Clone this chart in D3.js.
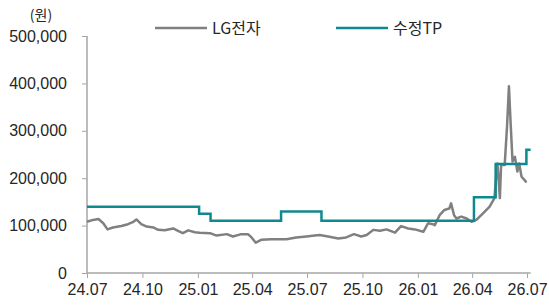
<!DOCTYPE html>
<html>
<head>
<meta charset="utf-8">
<script src="https://cdn.jsdelivr.net/npm/d3@7"></script>
<style>
  body { margin: 0; background: #fff; }
  svg { display: block; font-family: "Noto Sans CJK KR", "Noto Sans", sans-serif; }
</style>
</head>
<body>
<script>
// LG전자 price (원)
const priceDates = ['2024-07-01','2024-07-11','2024-07-20','2024-07-28','2024-08-04','2024-08-13','2024-08-27','2024-09-07','2024-09-16','2024-09-21','2024-09-29','2024-10-08','2024-10-19','2024-10-27','2024-11-07','2024-11-21','2024-11-29','2024-12-07','2024-12-16','2024-12-27','2025-01-04','2025-01-21','2025-02-01','2025-02-18','2025-02-28','2025-03-14','2025-03-25','2025-03-31','2025-04-07','2025-04-16','2025-05-03','2025-05-17','2025-05-28','2025-06-13','2025-06-30','2025-07-14','2025-07-22','2025-08-05','2025-08-22','2025-09-04','2025-09-17','2025-09-29','2025-10-08','2025-10-19','2025-10-30','2025-11-10','2025-11-24','2025-12-04','2025-12-16','2025-12-27','2026-01-10','2026-01-18','2026-01-26','2026-01-29','2026-02-06','2026-02-14','2026-02-22','2026-02-25','2026-03-02','2026-03-06','2026-03-14','2026-03-23','2026-03-31','2026-04-08','2026-04-19','2026-04-30','2026-05-08','2026-05-11','2026-05-13','2026-05-17','2026-05-19','2026-05-25','2026-05-29','2026-06-01','2026-06-04','2026-06-07','2026-06-11','2026-06-15','2026-06-18','2026-06-22','2026-06-27','2026-06-30']
const priceValues = [108000,112000,114000,105000,92000,96000,99000,103000,108000,113000,103000,98000,96000,91000,90000,94000,89000,84000,90000,86000,85000,84000,79000,82000,77000,82000,82000,75000,64000,70000,71000,71000,71000,75000,77000,79000,80000,77000,73000,75000,82000,77000,80000,91000,89000,92000,85000,99000,94000,92000,87000,105000,103000,101000,122000,133000,136000,147000,122000,115000,119000,115000,108000,112000,126000,140000,158000,207000,231000,158000,228000,228000,312000,394000,312000,235000,245000,214000,231000,203000,196000,191000]

// 수정TP (목표주가) change dates
const tpDates = ['2024-07-01','2025-01-03','2025-01-22','2025-05-19','2025-07-25','2026-04-04','2026-05-10','2026-06-30','2026-07-07']
const tpValues = [140000,125000,110000,130000,110000,160000,230000,260000,260000]

const xTicks = ['2024-07-01','2024-10-01','2025-01-01','2025-04-01','2025-07-01','2025-10-01','2026-01-01','2026-04-01','2026-07-01']
const yTicks = [0,100000,200000,300000,400000,500000]
const seriesNames = ['LG전자','수정TP']

const parse = d3.timeParse('%Y-%m-%d')
const price = priceDates.map((d, i) => ({ date: parse(d), v: priceValues[i] }))
const tp = tpDates.map((d, i) => ({ date: parse(d), v: tpValues[i] }))

const width = 549, height = 305
const svg = d3.select('body').append('svg').attr('width', width).attr('height', height)

const x = d3.scaleTime()
  .domain([parse('2024-07-01'), parse('2026-07-01')])
  .range([87, 527])
const y = d3.scaleLinear().domain([0, 500000]).range([273, 36])

const axisColor = '#a6a6a6'
const textColor = '#262626'

// y axis
const yAxis = svg.append('g')
  .attr('transform', 'translate(87,0)')
  .call(d3.axisLeft(y).tickValues(yTicks).tickSize(5).tickPadding(15)
    .tickFormat(d3.format(',')))
yAxis.select('.domain').attr('stroke', axisColor).attr('stroke-width', 1.5)
  .attr('d', `M0,${y(500000)}V${y(0)}`)
yAxis.selectAll('.tick line').attr('stroke', axisColor)
yAxis.selectAll('.tick text').attr('fill', textColor).style('font-size', '16px')

// x axis
const xAxis = svg.append('g')
  .attr('transform', `translate(0,${y(0)})`)
  .call(d3.axisBottom(x).tickValues(xTicks.map(parse)).tickSize(5).tickPadding(6)
    .tickFormat(d3.timeFormat('%y.%m')))
xAxis.select('.domain').attr('stroke', axisColor).attr('stroke-width', 1.5)
  .attr('d', `M87,0H${x(parse('2026-07-07'))}`)
xAxis.selectAll('.tick line').attr('stroke', axisColor)
xAxis.selectAll('.tick text').attr('fill', textColor).style('font-size', '16px')

svg.append('text')
  .attr('x', 41).attr('y', 20)
  .attr('text-anchor', 'middle')
  .attr('fill', textColor)
  .style('font-size', '14px')
  .text('(원)')

const line = d3.line().x(d => x(d.date)).y(d => y(d.v))

svg.append('path')
  .datum(price)
  .attr('fill', 'none')
  .attr('stroke', '#808080')
  .attr('stroke-width', 2.5)
  .attr('stroke-linejoin', 'round')
  .attr('d', line)

svg.append('path')
  .datum(tp)
  .attr('fill', 'none')
  .attr('stroke', '#0e8a8f')
  .attr('stroke-width', 2.5)
  .attr('d', line.curve(d3.curveStepAfter))

// legend
const legend = [
  { name: seriesNames[0], color: '#808080', x: 155 },
  { name: seriesNames[1], color: '#0e8a8f', x: 336 }
]
legend.forEach(l => {
  svg.append('line')
    .attr('x1', l.x).attr('x2', l.x + 52)
    .attr('y1', 28).attr('y2', 28)
    .attr('stroke', l.color).attr('stroke-width', 2.5)
  svg.append('text')
    .attr('x', l.x + 57).attr('y', 28)
    .attr('dy', '0.35em')
    .attr('fill', textColor)
    .style('font-size', '16px')
    .text(l.name)
})
</script>
</body>
</html>
